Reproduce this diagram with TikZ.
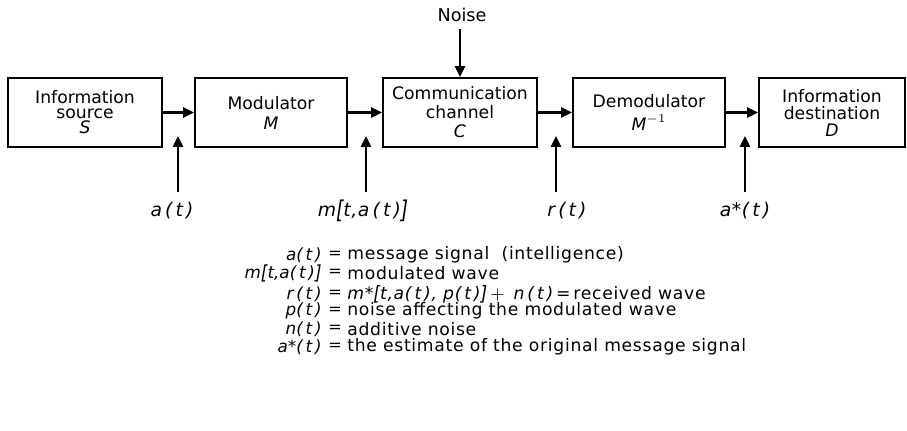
\documentclass[tikz,border=0pt]{standalone}
\usepackage{fontspec}
\setmainfont{DejaVu Sans}
\usepackage{graphicx}
\usetikzlibrary{arrows.meta}
\newcommand{\lbk}{\raisebox{-0.2ex}{\scalebox{1}[1.3]{[}}}
\newcommand{\rbk}{\raisebox{-0.2ex}{\scalebox{1}[1.3]{]}}}
\newcommand{\slbk}{\raisebox{-0.1ex}{\scalebox{1}[1.15]{[}}}
\newcommand{\srbk}{\raisebox{-0.1ex}{\scalebox{1}[1.15]{]}}}
\begin{document}
\begin{tikzpicture}[x=0.5pt,y=-0.5pt,
  blk/.style={draw,line width=0.9pt,minimum height=34.5pt,align=center,inner sep=0pt,
    font=\fontsize{8.6}{7.5}\selectfont},
  arr/.style={line width=1.3pt,-{Triangle[length=5.5pt,width=5pt]}},
  sig/.style={font=\fontsize{9.4}{10}\selectfont\itshape\addfontfeature{LetterSpace=3},inner sep=1pt},
  lsig/.style={font=\fontsize{8.4}{10}\selectfont\itshape,inner sep=1pt},
  leg/.style={font=\fontsize{8.6}{10}\selectfont\addfontfeature{LetterSpace=4},inner sep=1pt}]
\useasboundingbox (0,0) rectangle (907,431);
% blocks
\node[blk,minimum width=77pt] (S) at (85,112.5) {Information\\source\\[0pt]{\itshape S}};
\node[blk,minimum width=76pt] (M) at (271,112.5) {Modulator\\[2.5pt]{\itshape M}};
\node[blk,minimum width=77pt] (C) at (460,112.5) {Communication\\[2pt]channel\\[2pt]{\itshape C}};
\node[blk,minimum width=76pt] (Mi) at (649,112.5) {Demodulator\\[2.5pt]{\itshape M}$^{-1}$};
\node[blk,minimum width=73pt] (D) at (832,112.5) {Information\\[1pt]destination\\[1pt]{\itshape D}};
% noise
\node[font=\fontsize{8.8}{10}\selectfont] (N) at (462,15) {Noise};
\draw[arr] (N.south -| C.north) -- (C.north);
% forward arrows
\draw[arr] (S.east) -- (M.west);
\draw[arr] (M.east) -- (C.west);
\draw[arr] (C.east) -- (Mi.west);
\draw[arr] (Mi.east) -- (D.west);
% signal labels
\node[sig] (la) at (172,211) {a\,(\,t\,)};
\node[sig] (lm) at (363,211) {m\lbk t,a\,(\,t\,)\rbk};
\node[sig] (lr) at (567,211) {r\,(\,t\,)};
\node[sig] (ls) at (745,211) {a*(\,t\,)};
\foreach \n/\x in {a/178,m/366,r/556,s/745}{
  \coordinate (b\n) at (\x,192);
  \coordinate (t\n) at (\x,136);
  \draw[arr] (b\n) -- (t\n);
}
% legend
\foreach \i/\y/\l/\r in {
  1/255/{a(\,t\,)}/{message signal\ \ (intelligence)},
  2/273/{m\slbk t,a(\,t\,)\srbk}/{modulated wave},
  3/294/{r\,(\,t\,)}/{{\itshape m*\slbk t,a(\,t\,), p(\,t\,)\srbk}\,$+$\,\ {\itshape n\,(\,t\,)}\,=\,received wave},
  4/311/{p(\,t\,)}/{noise affecting the modulated wave},
  5/329/{n(\,t\,)}/{additive noise},
  6/347/{a*(\,t\,)}/{the estimate of the original message signal}}{
  \node[lsig,anchor=east] (L\i) at (324,\y) {\l};
  \node[font=\fontsize{8}{10}\selectfont,inner sep=1pt] (E\i) at (335,\y) {=};
  \node[leg,anchor=west] (R\i) at (345,\y) {\r};
}
\end{tikzpicture}
\end{document}
